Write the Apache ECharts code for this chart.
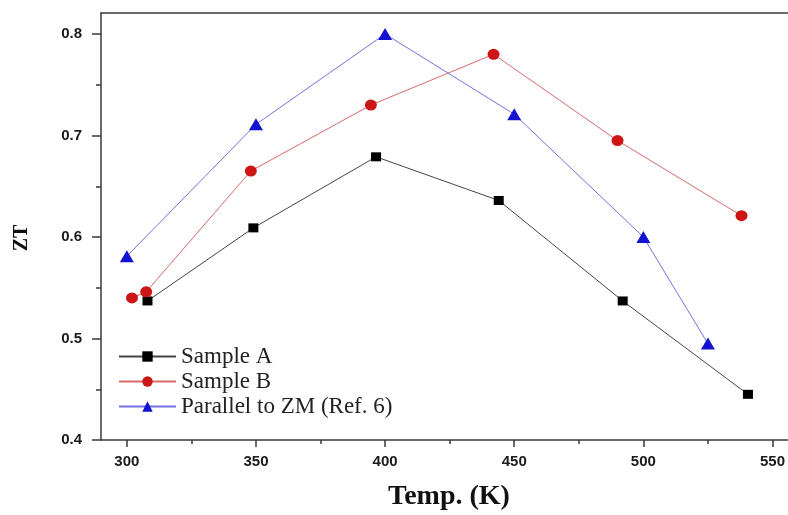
<!DOCTYPE html>
<html>
<head>
<meta charset="utf-8">
<script src="https://cdn.jsdelivr.net/npm/echarts@6/dist/echarts.min.js"></script>
<style>
html,body{margin:0;padding:0;background:#fff;}
#chart{width:788px;height:515px;}
</style>
</head>
<body>
<div id="chart"></div>
<script>
// ---- data ----
const sampleA_T  = [308, 349, 396.5, 444, 492, 540.5];
const sampleA_ZT = [0.537, 0.609, 0.679, 0.636, 0.537, 0.445];

const sampleB_T  = [302, 307.5, 348, 394.5, 442, 490, 538];
const sampleB_ZT = [0.540, 0.546, 0.665, 0.730, 0.780, 0.695, 0.621];

const ref_T  = [300, 350, 400, 450, 500, 525];
const ref_ZT = [0.581, 0.711, 0.800, 0.721, 0.600, 0.495];

const xMajorTicks = [300, 350, 400, 450, 500, 550];
const xMinorTicks = [325, 375, 425, 475, 525];
const yMajorTicks = [0.4, 0.5, 0.6, 0.7, 0.8];
const yMinorTicks = [0.45, 0.55, 0.65, 0.75];

const seriesNames = ['Sample A', 'Sample B', 'Parallel to ZM (Ref. 6)'];
const xTitle = 'Temp. (K)';
const yTitle = 'ZT';

const pairs = (xs, ys) => xs.map((x, i) => [x, ys[i]]);

const chart = echarts.init(document.getElementById('chart'), null, {renderer: 'canvas'});

const axisColor = '#3a3a3a';
const tickFont = {fontFamily: 'Liberation Sans, Arial, sans-serif', fontWeight: 'bold', fontSize: 15, color: '#1a1a1a'};
const X_MIN = 290, X_MAX = 556;
const Y_MIN = 0.4, Y_MAX = 0.8207;

chart.setOption({
  animation: false,
  backgroundColor: '#ffffff',
  grid: {left: 101, right: 0, top: 13, bottom: 75, containLabel: false},
  xAxis: [{
    type: 'value', min: X_MIN, max: X_MAX,
    axisLine: {show: true, lineStyle: {color: axisColor, width: 1.5}},
    axisTick: {show: true, inside: false, length: 7, customValues: xMajorTicks,
      lineStyle: {color: axisColor, width: 1.5}},
    splitLine: {show: false},
    axisLabel: Object.assign({margin: 14, customValues: xMajorTicks}, tickFont)
  }, {
    type: 'value', position: 'bottom', min: X_MIN, max: X_MAX,
    axisLine: {show: false},
    axisTick: {show: true, inside: false, length: 4, customValues: xMinorTicks,
      lineStyle: {color: axisColor, width: 1.5}},
    axisLabel: {show: false}, splitLine: {show: false}
  }, {
    type: 'value', position: 'top', min: X_MIN, max: X_MAX,
    axisLine: {show: true, onZero: false, lineStyle: {color: axisColor, width: 1.5}},
    axisTick: {show: false}, axisLabel: {show: false}, splitLine: {show: false}
  }],
  yAxis: [{
    type: 'value', min: Y_MIN, max: Y_MAX,
    axisLine: {show: true, lineStyle: {color: axisColor, width: 1.5}},
    axisTick: {show: true, inside: false, length: 9, customValues: yMajorTicks,
      lineStyle: {color: axisColor, width: 1.5}},
    splitLine: {show: false},
    axisLabel: Object.assign({margin: 19, customValues: yMajorTicks, formatter: v => v.toFixed(1)}, tickFont)
  }, {
    type: 'value', position: 'left', min: Y_MIN, max: Y_MAX,
    axisLine: {show: false},
    axisTick: {show: true, inside: false, length: 5, customValues: yMinorTicks,
      lineStyle: {color: axisColor, width: 1.5}},
    axisLabel: {show: false}, splitLine: {show: false}
  }],
  legend: {
    orient: 'vertical', left: 113, top: 340,
    itemWidth: 57, itemHeight: 13, itemGap: 2,
    textStyle: {fontFamily: 'Liberation Serif, Times New Roman, serif', fontSize: 23, lineHeight: 22, color: '#222'},
    data: seriesNames
  },
  series: [{
    name: seriesNames[0], type: 'line', data: pairs(sampleA_T, sampleA_ZT),
    symbol: 'rect', symbolSize: [10, 9],
    lineStyle: {color: '#444', width: 1},
    itemStyle: {color: '#000'}
  }, {
    name: seriesNames[1], type: 'line', data: pairs(sampleB_T, sampleB_ZT),
    symbol: 'circle', symbolSize: [12, 11],
    lineStyle: {color: '#d86a6a', width: 1},
    itemStyle: {color: '#cc1515'}
  }, {
    name: seriesNames[2], type: 'line', data: pairs(ref_T, ref_ZT),
    symbol: 'triangle', symbolSize: [14, 12],
    lineStyle: {color: '#7272e0', width: 1},
    itemStyle: {color: '#1212d0'}
  }],
  graphic: [{
    type: 'text', x: 449, y: 497,
    style: {text: xTitle, x: 0, y: 0, align: 'center', verticalAlign: 'middle',
      font: 'bold 28px "Liberation Serif", "Times New Roman", serif', fill: '#111'}
  }, {
    type: 'text', x: 22, y: 238, rotation: Math.PI / 2,
    style: {text: yTitle, x: 0, y: 0, align: 'center', verticalAlign: 'middle',
      font: 'bold 20px "Liberation Serif", "Times New Roman", serif', fill: '#111'}
  }]
});
</script>
</body>
</html>
